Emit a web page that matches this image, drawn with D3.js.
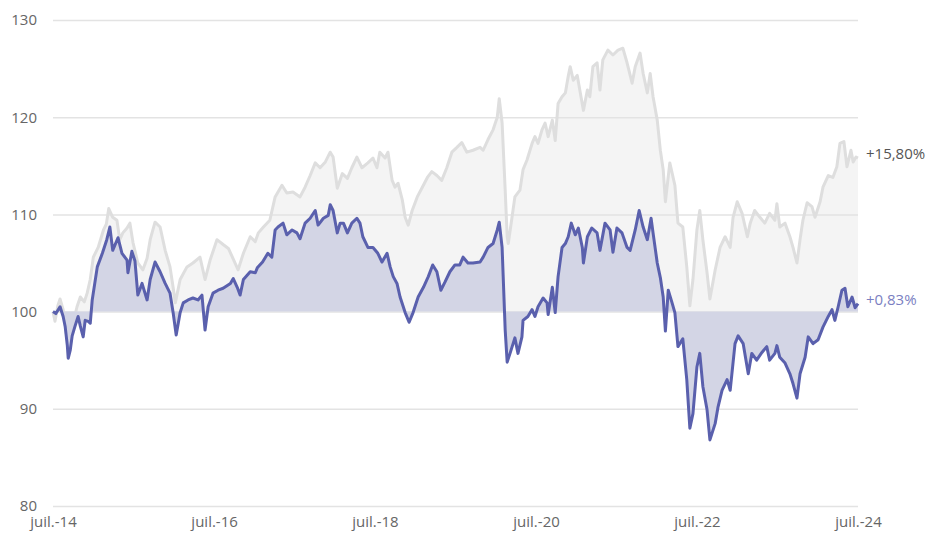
<!DOCTYPE html>
<html>
<head>
<meta charset="utf-8">
<script src="https://cdn.jsdelivr.net/npm/d3@7"></script>
<style>
  body{margin:0;background:#fff;}
  svg text{font-family:"Open Sans",sans-serif;}
</style>
</head>
<body>
<script>
// series 1 (grey, benchmark), base 100
var greyDates=["2014-07-01","2014-07-10","2014-07-23","2014-08-02","2014-08-16","2014-08-29","2014-09-08","2014-09-17","2014-09-30","2014-10-18","2014-11-02","2014-11-20","2014-12-03","2014-12-17","2014-12-31",
"2015-01-22","2015-02-15","2015-02-28","2015-03-11","2015-03-29","2015-04-17","2015-04-30","2015-05-14","2015-06-02","2015-06-15","2015-06-29","2015-07-21","2015-08-13","2015-09-01","2015-09-15","2015-10-07","2015-10-30","2015-11-22","2015-12-14","2015-12-28",
"2016-01-07","2016-01-29","2016-02-29","2016-03-27","2016-04-28","2016-05-21","2016-06-13","2016-07-14","2016-08-11","2016-09-04","2016-09-22","2016-10-18","2016-11-11","2016-12-12",
"2017-01-04","2017-01-18","2017-02-10","2017-03-11","2017-04-04","2017-05-05","2017-05-27","2017-06-24","2017-07-26","2017-08-18","2017-09-10","2017-10-03","2017-10-25","2017-11-18","2017-12-10","2017-12-23",
"2018-01-11","2018-02-03","2018-02-26","2018-03-18","2018-04-10","2018-05-03","2018-05-30","2018-06-22","2018-07-10","2018-07-23","2018-08-16","2018-08-29","2018-09-17","2018-09-30","2018-10-14","2018-11-02","2018-11-15","2018-11-29","2018-12-17",
"2019-01-09","2019-02-01","2019-02-24","2019-03-16","2019-04-08","2019-04-30","2019-05-23","2019-06-15","2019-07-08","2019-07-30","2019-08-22","2019-09-19","2019-10-21","2019-11-04","2019-11-26","2019-12-19",
"2020-01-07","2020-01-16","2020-01-29","2020-02-12","2020-02-21","2020-02-26","2020-03-14","2020-03-27","2020-04-19","2020-05-03","2020-05-21","2020-06-13","2020-06-26","2020-07-10","2020-07-28","2020-08-11","2020-08-25","2020-09-13","2020-09-26","2020-10-09","2020-10-27","2020-11-11","2020-11-24","2020-12-03","2020-12-17",
"2021-01-04","2021-01-18","2021-02-01","2021-02-19","2021-03-02","2021-03-16","2021-04-04","2021-04-17","2021-04-30","2021-05-23","2021-06-15","2021-07-08","2021-07-30","2021-08-18","2021-09-10","2021-09-24","2021-10-16","2021-10-30","2021-11-18","2021-12-01","2021-12-14",
"2022-01-02","2022-01-16","2022-01-29","2022-02-08","2022-02-28","2022-03-23","2022-04-06","2022-04-28","2022-05-16","2022-05-30","2022-06-13","2022-07-01","2022-07-14","2022-07-28","2022-08-16","2022-08-29","2022-09-22","2022-10-14","2022-11-06","2022-11-29","2022-12-12","2022-12-31",
"2023-01-22","2023-02-15","2023-02-28","2023-03-20","2023-04-13","2023-05-05","2023-05-27","2023-06-20","2023-06-29","2023-07-12","2023-08-05","2023-08-27","2023-09-10","2023-09-28","2023-10-12","2023-10-25","2023-11-13","2023-12-05","2023-12-19",
"2024-01-11","2024-01-24","2024-02-17","2024-03-09","2024-03-27","2024-04-10","2024-04-28","2024-05-12","2024-05-30","2024-06-09","2024-06-22","2024-07-01"];
var greyValues=[100.0,99.0,100.6,101.3,100.2,98.0,96.5,97.3,98.8,100.5,101.5,101.0,101.9,103.3,105.6,
106.6,108.4,109.0,110.6,109.7,109.4,107.4,108.1,108.6,109.1,107.1,105.0,104.3,105.5,107.4,109.2,108.7,106.3,104.6,102.5,
100.9,103.3,104.6,105.0,105.6,103.3,105.3,107.4,106.9,106.5,105.6,104.3,106.0,107.7,
107.2,108.1,108.7,109.4,111.8,113.0,112.2,112.3,111.8,112.8,114.0,115.3,114.8,115.4,116.4,115.9,
112.7,114.2,113.7,114.8,115.9,114.8,115.3,115.8,114.8,116.4,115.8,116.4,113.5,112.8,113.2,111.5,109.7,108.9,110.4,
111.8,112.8,113.8,114.4,114.0,113.5,114.8,116.4,116.9,117.4,116.4,116.6,116.9,116.6,117.7,118.7,
120.0,121.9,119.4,112.5,107.7,107.0,109.7,111.8,112.5,114.6,115.6,117.3,118.0,117.3,118.7,119.4,118.0,119.7,117.6,121.4,122.1,122.5,124.2,125.2,123.8,
124.3,122.5,120.7,122.8,122.1,125.2,125.6,122.8,125.9,126.9,126.4,126.9,127.1,125.6,123.5,125.2,126.6,124.5,122.5,124.5,122.1,
119.7,116.6,114.6,111.3,115.3,113.0,109.1,108.7,104.6,100.6,103.3,108.4,110.4,107.4,104.0,101.3,104.3,106.6,107.7,106.6,109.7,111.3,
110.1,107.7,109.1,110.4,109.7,109.1,110.1,109.4,111.1,108.7,109.1,107.7,106.6,105.0,107.4,109.4,111.2,110.8,109.7,
111.3,112.8,114.0,113.8,114.9,117.3,117.5,114.9,116.6,115.4,115.9,115.8];

// series 2 (blue, fund), base 100
var blueDates=["2014-07-01","2014-07-14","2014-08-02","2014-08-16","2014-08-25","2014-09-04","2014-09-08","2014-09-17","2014-09-26","2014-10-09","2014-10-23","2014-11-02","2014-11-15","2014-11-24","2014-12-08","2014-12-17","2014-12-26",
"2015-01-18","2015-02-10","2015-03-02","2015-03-16","2015-03-29","2015-04-22","2015-05-10","2015-06-02","2015-06-06","2015-06-24","2015-07-08","2015-07-21","2015-08-09","2015-09-01","2015-09-15","2015-10-07","2015-10-30","2015-11-22","2015-12-14","2015-12-28",
"2016-01-11","2016-01-29","2016-02-12","2016-03-05","2016-03-27","2016-04-19","2016-05-07","2016-05-21","2016-06-04","2016-06-26","2016-07-19","2016-08-11","2016-09-13","2016-09-26","2016-10-14","2016-10-27","2016-11-11","2016-12-12",
"2017-01-04","2017-01-13","2017-02-06","2017-03-02","2017-03-20","2017-04-04","2017-04-17","2017-05-10","2017-05-27","2017-06-20","2017-07-12","2017-07-26","2017-08-18","2017-09-10","2017-10-03","2017-10-16","2017-11-09","2017-12-01","2017-12-10","2017-12-23",
"2018-01-11","2018-01-24","2018-02-08","2018-02-26","2018-03-18","2018-04-10","2018-04-24","2018-05-07","2018-05-30","2018-06-22","2018-07-14","2018-08-02","2018-08-25","2018-09-08","2018-09-22","2018-10-09","2018-10-23","2018-11-15","2018-12-03","2018-12-21",
"2019-01-13","2019-02-06","2019-02-28","2019-03-20","2019-04-08","2019-04-26","2019-05-14","2019-06-06","2019-06-29","2019-07-21","2019-08-05","2019-08-27","2019-09-19","2019-10-21","2019-11-04","2019-11-26","2019-12-19",
"2020-01-07","2020-01-16","2020-01-29","2020-02-12","2020-02-21","2020-03-05","2020-03-27","2020-04-10","2020-04-28","2020-05-03","2020-05-25","2020-06-13","2020-06-26","2020-07-10","2020-08-02","2020-08-20","2020-08-25","2020-09-13","2020-09-26","2020-10-09","2020-10-27","2020-11-11","2020-11-24","2020-12-08","2020-12-26",
"2021-01-09","2021-01-27","2021-02-01","2021-02-19","2021-03-11","2021-04-04","2021-04-17","2021-05-10","2021-06-02","2021-06-15","2021-07-03","2021-07-26","2021-08-18","2021-09-01","2021-09-24","2021-10-12","2021-10-30","2021-11-18","2021-12-05","2021-12-14",
"2022-01-02","2022-01-16","2022-01-29","2022-02-08","2022-02-21","2022-03-09","2022-03-23","2022-04-06","2022-04-28","2022-05-16","2022-05-30","2022-06-13","2022-07-01","2022-07-14","2022-07-28","2022-08-16","2022-08-29","2022-09-22","2022-10-05","2022-10-23","2022-11-15","2022-11-29","2022-12-21",
"2023-01-04","2023-01-27","2023-02-19","2023-03-07","2023-03-29","2023-04-22","2023-05-14","2023-05-27","2023-06-20","2023-06-29","2023-07-12","2023-08-05","2023-08-27","2023-09-10","2023-09-28","2023-10-12","2023-11-04","2023-11-18","2023-12-10",
"2024-01-02","2024-01-24","2024-02-17","2024-03-05","2024-03-18","2024-04-02","2024-04-19","2024-05-03","2024-05-16","2024-06-04","2024-06-18","2024-07-01"];
var blueValues=[100.0,99.8,100.5,99.5,98.5,96.5,95.2,96.0,97.5,98.5,99.5,98.5,97.4,99.1,99.0,98.8,101.2,
104.6,106.0,107.4,108.7,106.3,107.6,106.0,105.3,104.0,106.2,105.2,101.7,102.9,101.2,103.3,105.1,104.1,102.9,101.9,99.9,
97.6,99.9,100.9,101.2,101.4,101.2,101.7,98.1,100.5,101.9,102.2,102.4,102.9,103.4,102.5,101.7,103.3,104.1,
104.0,104.5,105.1,106.0,105.6,108.4,108.7,109.1,107.9,108.4,108.1,107.5,109.1,109.6,110.4,108.9,109.6,109.9,111.0,110.4,
108.1,109.1,109.1,108.1,109.1,109.6,109.1,107.7,106.6,106.6,106.0,105.1,106.0,104.6,103.6,102.9,101.5,99.9,98.9,99.9,
101.5,102.5,103.6,104.8,104.1,102.2,103.0,104.1,104.8,104.8,105.6,105.0,105.0,105.1,105.6,106.6,107.0,
108.4,109.2,106.6,98.1,94.8,95.7,97.3,95.7,97.4,99.1,99.5,100.2,99.5,100.5,101.4,100.9,99.7,102.5,99.9,103.6,106.6,107.0,107.7,109.1,107.9,
108.6,106.6,105.0,107.7,108.6,108.1,106.3,109.1,108.4,106.1,108.6,108.1,106.6,106.3,108.4,110.4,108.7,107.4,109.6,108.1,
105.0,103.5,101.5,98.0,102.2,101.0,99.9,96.4,97.2,93.0,88.0,89.5,94.3,95.7,92.3,89.9,86.8,88.5,90.2,91.9,93.0,91.9,96.7,
97.5,96.7,93.6,95.7,95.0,95.8,96.4,95.0,95.7,96.5,95.3,94.7,93.6,92.6,91.1,93.6,95.3,97.4,96.7,
97.1,98.4,99.5,100.2,99.1,100.5,102.2,102.4,100.5,101.5,100.4,100.83];

var yTicks=[80,90,100,110,120,130];
var xTickDates=["2014-07-01","2016-07-01","2018-07-01","2020-07-01","2022-07-01","2024-07-01"];
var xTickLabels=["juil.-14","juil.-16","juil.-18","juil.-20","juil.-22","juil.-24"];
var baseValue=100;

var drawGraph=function(w,h)
{
  var parse=d3.timeParse("%Y-%m-%d");
  var grey=greyDates.map(function(d,i){return {date:parse(d),value:greyValues[i]};});
  var blue=blueDates.map(function(d,i){return {date:parse(d),value:blueValues[i]};});

  var svg=d3.select("body").append("svg")
            .attr("width",w)
            .attr("height",h);

  var margins={top:20,bottom:27,left:53,right:72};
  var width=w-margins.left-margins.right;
  var height=h-margins.top-margins.bottom;

  var xScale=d3.scaleTime()
               .domain([parse(xTickDates[0]),parse(xTickDates[xTickDates.length-1])])
               .range([0,width]);
  var yScale=d3.scaleLinear()
               .domain([80,130])
               .range([height,0]);

  var plot=svg.append("g")
              .attr("transform","translate("+margins.left+","+margins.top+")");

  var area=d3.area()
             .x(function(d){return xScale(d.date);})
             .y0(yScale(baseValue))
             .y1(function(d){return yScale(d.value);});
  var line=d3.line()
             .x(function(d){return xScale(d.date);})
             .y(function(d){return yScale(d.value);});

  // grey fill first, grid on top of it
  plot.append("path").datum(grey)
      .attr("d",area)
      .attr("fill","#f4f4f4");

  var yAxis=d3.axisLeft(yScale)
              .tickValues(yTicks)
              .tickSizeInner(-width)
              .tickSizeOuter(0)
              .tickPadding(16);
  var gy=plot.append("g").call(yAxis);
  gy.select(".domain").remove();
  gy.selectAll("line").attr("stroke","#e3e3e3").attr("stroke-width",1.5);
  gy.selectAll("text").attr("fill","#666").style("font-size","15px");

  plot.append("path").datum(grey)
      .attr("d",line)
      .attr("fill","none")
      .attr("stroke","#dedede")
      .attr("stroke-width",3)
      .attr("stroke-linejoin","round");

  plot.append("path").datum(blue)
      .attr("d",area)
      .attr("fill","#d3d5e5");

  plot.append("path").datum(blue)
      .attr("d",line)
      .attr("fill","none")
      .attr("stroke","#5a60ad")
      .attr("stroke-width",3)
      .attr("stroke-linejoin","round");

  var xAxis=d3.axisBottom(xScale)
              .tickValues(xTickDates.map(parse))
              .tickFormat(function(d,i){return xTickLabels[i];})
              .tickSize(0)
              .tickPadding(10);
  var gx=plot.append("g")
             .attr("transform","translate(0,"+height+")")
             .call(xAxis);
  gx.select(".domain").remove();
  gx.selectAll("text").attr("fill","#666").style("font-size","15px");

  // end labels, performance since start
  var ends=[{d:grey[grey.length-1],color:"#555"},{d:blue[blue.length-1],color:"#7b7fc2"}];
  plot.selectAll(".endLabel")
      .data(ends)
      .enter()
      .append("text")
      .classed("endLabel",true)
      .attr("x",function(e){return xScale(e.d.date)+8;})
      .attr("y",function(e){return yScale(e.d.value)-4;})
      .attr("dy","0.35em")
      .attr("fill",function(e){return e.color;})
      .style("font-size","15px")
      .text(function(e){return "+"+(e.d.value-baseValue).toFixed(2).replace(".",",")+"%";});
};

drawGraph(930,533);
</script>
</body>
</html>
